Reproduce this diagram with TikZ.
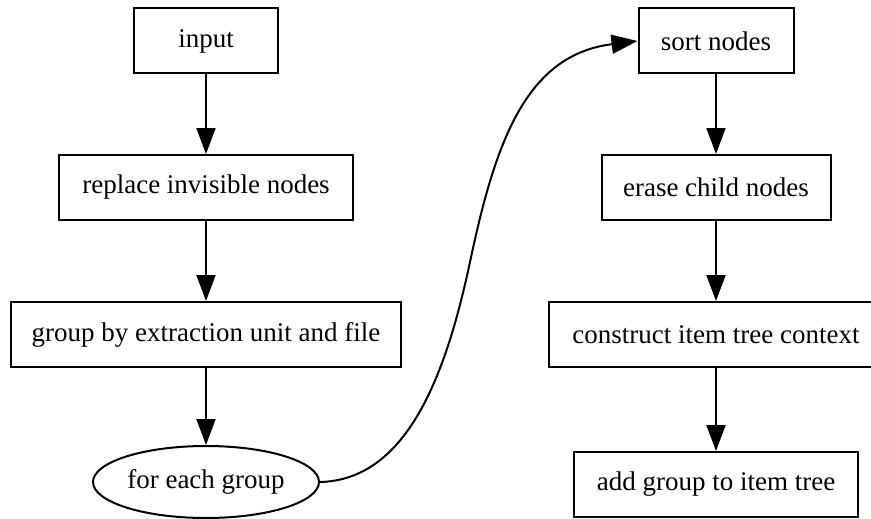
\documentclass[tikz,border=0pt]{standalone}
\usepackage{fontspec}
\setmainfont{Liberation Serif}
\usetikzlibrary{arrows.meta,shapes.geometric}
\begin{document}
\begin{tikzpicture}[x=1pt,y=-1pt,
  every node/.style={font=\fontsize{27}{32}\selectfont},
  box/.style={draw,line width=2pt,rectangle,minimum height=65pt,inner sep=0pt},
  oval/.style={draw,line width=2pt,ellipse,minimum width=226pt,minimum height=72pt,inner sep=0pt},
  arr/.style={line width=2pt,-{Triangle[length=26pt,width=19pt]}}]
\useasboundingbox (0,0) rectangle (871,519);
\clip (0,0) rectangle (871,519);
\node[box,minimum width=144pt] (in) at (206,41) {input};
\node[box,minimum width=294pt] (rep) at (206,187.5) {replace invisible nodes};
\node[box,minimum width=390pt] (grp) at (206,334.5) {group by extraction unit and file};
\node[oval] (each) at (206,482) {for each group};
\node[box,minimum width=155pt] (sort) at (716,41) {sort nodes};
\node[box,minimum width=229pt] (erase) at (716,187.5) {erase child nodes};
\node[box,minimum width=334pt] (ctx) at (716,334.5) {construct item tree context};
\node[box,minimum width=284pt] (add) at (716,484.5) {add group to item tree};
\coordinate (mid) at (470,262);
\draw[arr] (in) -- (rep);
\draw[arr] (rep) -- (grp);
\draw[arr] (grp) -- (each);
\draw[arr] (each.east) .. controls (405,480) and (445,380) .. (mid) .. controls (495,144) and (525,55) .. (sort.west);
\draw[arr] (sort) -- (erase);
\draw[arr] (erase) -- (ctx);
\draw[arr] (ctx) -- (add);
\end{tikzpicture}
\end{document}
